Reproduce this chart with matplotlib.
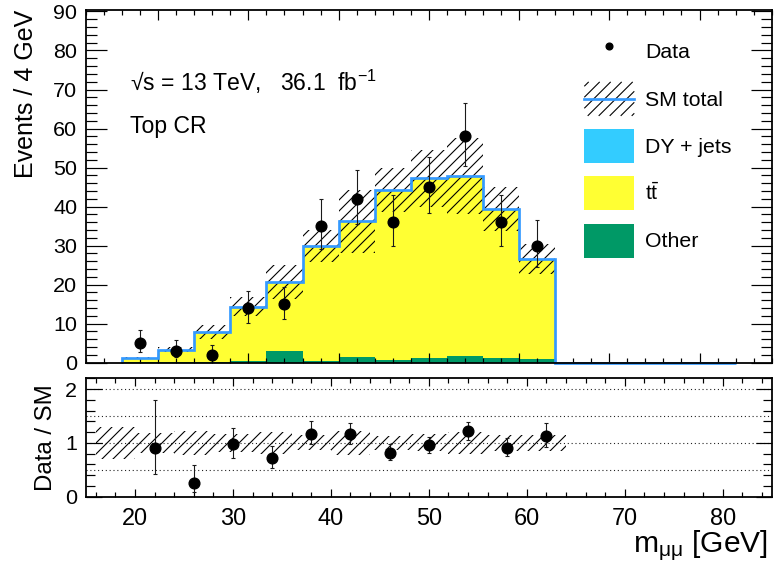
import numpy as np
import matplotlib
matplotlib.use("Agg")
import matplotlib.pyplot as plt
from matplotlib.ticker import MultipleLocator
from matplotlib.patches import Patch
from matplotlib.lines import Line2D
from matplotlib.collections import LineCollection
from matplotlib.transforms import IdentityTransform
from matplotlib.legend_handler import HandlerBase

# ---------------------------------------------------------------- data
bin_edges = np.arange(16, 85, 4)          # m_mumu bins [GeV], 4 GeV wide

# stacked backgrounds (events / bin)
other = [0.2, 0.3, 0.3, 0.5, 3.0, 0.5, 1.5, 0.7, 1.2, 1.8, 1.2, 0.9, 0, 0, 0, 0, 0]
ttbar = [1.0, 3.0, 7.5, 13.8, 17.6, 29.3, 34.6, 43.4, 45.9, 45.8, 38.1, 25.6, 0, 0, 0, 0, 0]
dy_jets = [0.0, 0.0, 0.1, 0.1, 0.1, 0.1, 0.1, 0.2, 0.1, 0.2, 0.1, 0.1, 0, 0, 0, 0, 0]
sm_unc = [0.35, 0.6, 1.8, 2.5, 4.3, 4.2, 8.0, 5.7, 7.4, 9.7, 5.6, 3.8, 0, 0, 0, 0, 0]

# observed data in the populated bins
data = [5, 3, 2, 14, 15, 35, 42, 36, 45, 58, 36, 30]
data_err_lo = [2.16, 1.63, 1.29, 3.70, 3.83, 5.90, 6.50, 6.00, 6.70, 7.60, 6.00, 5.50]
data_err_hi = [3.38, 2.92, 2.64, 4.30, 4.44, 6.97, 7.50, 7.05, 7.75, 8.67, 7.05, 6.50]

# --------------------------------------------------------------- style
DPI = 100
W, H = 775, 567


def px(v):
    """pixels -> points at the output resolution"""
    return v * 72.0 / DPI


plt.rcParams["font.family"] = ["Liberation Sans", "DejaVu Sans"]
plt.rcParams["mathtext.fontset"] = "custom"
plt.rcParams["mathtext.rm"] = "Liberation Sans"
plt.rcParams["mathtext.it"] = "Liberation Sans:italic"
plt.rcParams["mathtext.bf"] = "Liberation Sans:bold"

C_OTHER = "#009966"
C_TT = "#ffff33"
C_DY = "#33ccff"
C_SM = "#3399ff"
HATCH_STEP = 11.0     # horizontal distance between hatch lines, pixels
HATCH_LW = 1.1        # hatch line width, pixels


def add_hatch(axis, region):
    """Fill a patch with 45 degree black hatch lines (fixed pixel pitch)."""
    offs = np.arange(-H, W + H, HATCH_STEP)
    segs = [((c, 0.0), (c + H, float(H))) for c in offs]
    lc = LineCollection(segs, colors="black", linewidths=px(HATCH_LW),
                        transform=IdentityTransform(), zorder=region.get_zorder())
    axis.add_collection(lc, autolim=False)
    lc.set_clip_path(region)
    return lc


class HatchLineHandler(HandlerBase):
    """Legend key: hatched box with a horizontal line through the middle."""

    def create_artists(self, legend, orig_handle, xdescent, ydescent,
                       width, height, fontsize, trans):
        x0, y0 = -xdescent, -ydescent
        step = px(HATCH_STEP)
        segs = []
        for c in np.arange(-height + step * 0.4, width, step):
            xs, ys = max(c, 0.0), max(-c, 0.0)
            xe = min(c + height, width)
            ye = xe - c
            segs.append(((x0 + xs, y0 + ys), (x0 + xe, y0 + ye)))
        lines = LineCollection(segs, colors="black", linewidths=px(HATCH_LW),
                               transform=trans)
        mid = Line2D([x0, x0 + width], [y0 + height / 2] * 2, color=C_SM,
                     lw=px(2.7), transform=trans)
        return [lines, mid]


other = np.array(other, float)
ttbar = np.array(ttbar, float)
dy_jets = np.array(dy_jets, float)
sm_unc = np.array(sm_unc, float)
data = np.array(data, float)
data_err_lo = np.array(data_err_lo, float)
data_err_hi = np.array(data_err_hi, float)

sm_total = other + ttbar + dy_jets
centers = 0.5 * (bin_edges[:-1] + bin_edges[1:])
n_data = len(data)
x_data = centers[:n_data]

fig = plt.figure(figsize=(W / DPI, H / DPI), dpi=DPI)
ax = fig.add_axes([86 / W, 1 - 362.7 / H, 685.7 / W, 353.2 / H])
rax = fig.add_axes([86 / W, 1 - 496.7 / H, 685.7 / W, 118.4 / H])

# ------------------------------------------------------------ main pad
ax.stairs(other, bin_edges, baseline=0, fill=True, color=C_OTHER, zorder=1)
ax.stairs(other + ttbar, bin_edges, baseline=other, fill=True, color=C_TT, zorder=1)
ax.stairs(sm_total, bin_edges, baseline=other + ttbar, fill=True, color=C_DY, zorder=1)
band = ax.stairs(sm_total + sm_unc, bin_edges, baseline=sm_total - sm_unc, fill=True,
                 facecolor="none", edgecolor="none", linewidth=0, zorder=2)
add_hatch(ax, band)
ax.stairs(sm_total, bin_edges, baseline=0, fill=False, color=C_SM,
          linewidth=px(2.7), zorder=3, clip_on=False)
ax.errorbar(x_data, data, yerr=[data_err_lo, data_err_hi], fmt="o", color="black",
            ecolor="#1a1a1a", ms=px(10.7), elinewidth=px(1.1), capsize=px(2.0),
            capthick=px(1.1), zorder=5)

ax.set_xlim(12, 88)
ax.set_ylim(0, 90.5)
ax.xaxis.set_major_locator(MultipleLocator(10))
ax.xaxis.set_minor_locator(MultipleLocator(2))
ax.yaxis.set_major_locator(MultipleLocator(10))
ax.yaxis.set_minor_locator(MultipleLocator(2))
ax.tick_params(which="both", direction="in", top=True, right=True,
               labelbottom=False, width=px(1.2), colors="black")
ax.tick_params(axis="y", which="major", length=px(21), pad=px(8.5),
               labelsize=px(21.5))
ax.tick_params(axis="y", which="minor", length=px(10.7))
ax.tick_params(axis="x", which="major", length=px(10))
ax.tick_params(axis="x", which="minor", length=px(5.3))
for s in ax.spines.values():
    s.set_linewidth(px(1.8))
    s.set_zorder(6)

ax.set_ylabel("Events / 4 GeV", fontsize=px(25), loc="top")
ax.yaxis.set_label_coords(-0.070, 1.0)

ax.text(0.0642, 0.770, "√s = 13 TeV,   36.1  fb$^{-1}$", transform=ax.transAxes,
        fontsize=px(23), va="baseline", ha="left")
ax.text(0.0642, 0.6495, "Top CR", transform=ax.transAxes,
        fontsize=px(23), va="baseline", ha="left")

LEG_FS = 21.3                     # legend font size, pixels
BOX_H = 34.0                      # legend key height, pixels
hh = (BOX_H / LEG_FS - 0.245) / 0.65
h_data = Line2D([], [], marker="o", ls="none", color="black", ms=px(6.7))
h_sm = Patch(facecolor="none", edgecolor="none")
h_dy = Patch(facecolor=C_DY, edgecolor="none")
h_tt = Patch(facecolor=C_TT, edgecolor="none")
h_other = Patch(facecolor=C_OTHER, edgecolor="none")
ax.legend([h_data, h_sm, h_dy, h_tt, h_other],
          ["Data", "SM total", "DY + jets", r"t$\mathrm{\bar{t}}$", "Other"],
          loc="upper left", bbox_to_anchor=(0.7267, 0.929), frameon=False,
          borderpad=0, borderaxespad=0, handlelength=50 / LEG_FS,
          handleheight=hh, labelspacing=13.3 / LEG_FS,
          handletextpad=10.7 / LEG_FS, fontsize=px(LEG_FS), numpoints=1,
          handler_map={h_sm: HatchLineHandler()})

# ----------------------------------------------------------- ratio pad
ratio = data / sm_total[:n_data]
ratio_lo = data_err_lo / sm_total[:n_data]
ratio_hi = data_err_hi / sm_total[:n_data]
rel_unc = sm_unc[:n_data] / sm_total[:n_data]

for yv in (0.5, 1.0, 1.5, 2.0):
    rax.axhline(yv, color="#222222", lw=px(1.1), ls=(0, (1, 2.5)), zorder=1)
rband = rax.stairs(1 + rel_unc, bin_edges[:n_data + 1], baseline=1 - rel_unc,
                   fill=True, facecolor="none", edgecolor="none", linewidth=0,
                   zorder=2)
add_hatch(rax, rband)
rax.errorbar(x_data, ratio, yerr=[ratio_lo, ratio_hi], fmt="o", color="black",
             ecolor="#1a1a1a", ms=px(10.7), elinewidth=px(1.1), capsize=px(2.0),
             capthick=px(1.1), zorder=5)

rax.set_xlim(15, 85)
rax.set_ylim(0, 2.2)
rax.xaxis.set_major_locator(MultipleLocator(10))
rax.xaxis.set_minor_locator(MultipleLocator(2))
rax.yaxis.set_major_locator(MultipleLocator(1))
rax.yaxis.set_minor_locator(MultipleLocator(0.2))
rax.tick_params(which="both", direction="in", top=True, right=True,
                width=px(1.2), colors="black")
rax.tick_params(axis="x", which="major", length=px(8.3), pad=px(10),
                labelsize=px(23.5))
rax.tick_params(axis="x", which="minor", length=px(5))
rax.tick_params(axis="y", which="major", length=px(15.7), pad=px(9),
                labelsize=px(21.5))
rax.tick_params(axis="y", which="minor", length=px(9))
for s in rax.spines.values():
    s.set_linewidth(px(1.8))
    s.set_zorder(6)

rax.set_ylabel("Data / SM", fontsize=px(24))
rax.yaxis.set_label_coords(-0.0423, 0.5)
rax.set_xlabel(r"m$_{\mathrm{μμ}}$ [GeV]", fontsize=px(30), loc="right")
rax.xaxis.set_label_coords(0.995, -0.27)

fig.savefig("out.png", dpi=DPI)
